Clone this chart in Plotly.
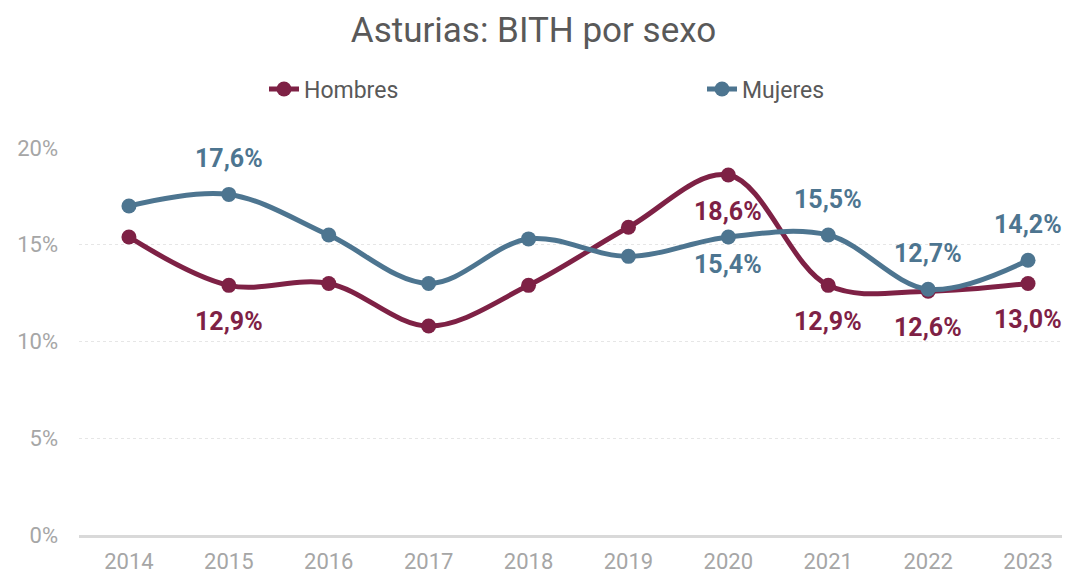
import plotly.graph_objects as go

years = ["2014", "2015", "2016", "2017", "2018", "2019", "2020", "2021", "2022", "2023"]
hombres = [15.4, 12.9, 13.0, 10.8, 12.9, 15.9, 18.6, 12.9, 12.6, 13.0]
mujeres = [17.0, 17.6, 15.5, 13.0, 15.3, 14.4, 15.4, 15.5, 12.7, 14.2]

# which points carry a value label, and on which side (+1 above, -1 below)
hombres_labels = {1: -1, 6: -1, 7: -1, 8: -1, 9: -1}
mujeres_labels = {1: 1, 6: -1, 7: 1, 8: 1, 9: 1}

C_H = "#7E2145"
C_M = "#4D7590"
FONT = "Roboto"

fig = go.Figure()
for name, vals, color in [("Hombres", hombres, C_H), ("Mujeres", mujeres, C_M)]:
    fig.add_trace(go.Scatter(
        x=list(range(len(years))), y=[v / 100 for v in vals], name=name,
        mode="lines+markers",
        line=dict(color=color, width=5, shape="spline", smoothing=1.0),
        marker=dict(color=color, size=15),
    ))

def fmt(v):
    return f"{v:.1f}".replace(".", ",") + "%"

annotations = []
for vals, labels, color in [(hombres, hombres_labels, C_H), (mujeres, mujeres_labels, C_M)]:
    for i, side in labels.items():
        shift = 36 * side
        if vals is mujeres and i == 6:
            shift = -28
        annotations.append(dict(
            x=i, y=vals[i] / 100, xref="x", yref="y", text=fmt(vals[i]), showarrow=False,
            yshift=shift, font=dict(family=FONT, size=25, color=color, weight="bold"),
        ))

fig.update_layout(
    width=1067, height=575,
    paper_bgcolor="white", plot_bgcolor="white",
    margin=dict(l=79, r=5, t=147, b=40),
    title=dict(text="Asturias: BITH por sexo", x=0.5, xanchor="center",
               y=1 - 30 / 575, yref="container", yanchor="middle",
               font=dict(family=FONT, size=35, color="#595959")),
    showlegend=True,
    legend=dict(orientation="h", xref="container", yref="container",
                x=264 / 1067, xanchor="left", y=1 - 89 / 575, yanchor="middle",
                entrywidth=393, entrywidthmode="pixels",
                font=dict(family=FONT, size=23, color="#595959"),
                bgcolor="rgba(0,0,0,0)"),
    xaxis=dict(range=[-0.5, 9.34], tickvals=list(range(len(years))), ticktext=years,
               showgrid=False, zeroline=False, automargin=False,
               showline=True, linecolor="#D9D9D9", linewidth=3, ticks="",
               tickfont=dict(family=FONT, size=22, color="#A6A6A6"), ticklabelstandoff=5),
    yaxis=dict(range=[0, 0.2005], tickvals=[0, 0.05, 0.10, 0.15, 0.20],
               ticktext=["0%", "5%", "10%", "15%", "20%"],
               showgrid=True, gridcolor="#E6E6E6", griddash="dot", gridwidth=1,
               zeroline=False, showline=False, automargin=False,
               tickfont=dict(family=FONT, size=22, color="#A6A6A6"), ticklabelstandoff=20),
    annotations=annotations,
)

fig.write_html("out.html")
